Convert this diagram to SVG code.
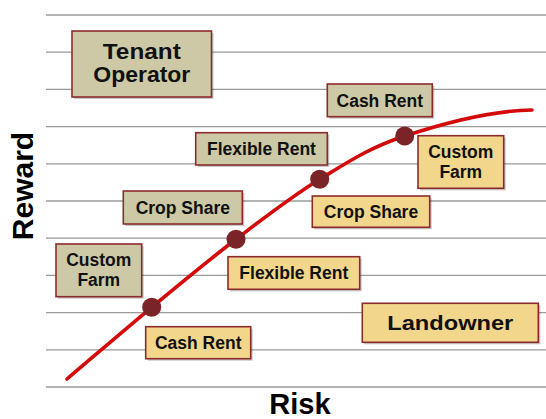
<svg xmlns="http://www.w3.org/2000/svg" width="546" height="419" viewBox="0 0 546 419">
<defs>
<style>
.grid line{stroke:#9a9a9a;stroke-width:1.3}
.box{stroke:#8c2b2e;stroke-width:1.6}
.gray{fill:#cdc9a6}
.yel{fill:#f1d68c}
.sh{fill:#000;opacity:0.22}
.t{font-family:"Liberation Sans",Arial,sans-serif;font-weight:bold;font-size:17.5px;fill:#111;text-anchor:middle}
.big{font-size:21.5px}
.axis{font-family:"Liberation Sans",Arial,sans-serif;font-weight:bold;font-size:30px;fill:#000;text-anchor:middle}
.dot{fill:#7b2428}
</style>
</defs>
<rect width="546" height="419" fill="#fff"/>
<g class="grid">
<line x1="46" y1="15" x2="546" y2="15"/>
<line x1="46" y1="52.2" x2="546" y2="52.2"/>
<line x1="46" y1="89.4" x2="546" y2="89.4"/>
<line x1="46" y1="126.6" x2="546" y2="126.6"/>
<line x1="46" y1="163.8" x2="546" y2="163.8"/>
<line x1="46" y1="201" x2="546" y2="201"/>
<line x1="46" y1="238.2" x2="546" y2="238.2"/>
<line x1="46" y1="275.4" x2="546" y2="275.4"/>
<line x1="46" y1="312.6" x2="546" y2="312.6"/>
<line x1="46" y1="349.8" x2="546" y2="349.8"/>
<line x1="46" y1="387" x2="546" y2="387"/>
</g>
<g id="connectors">
<path d="M67,379 C95.2,355.1 123.5,330.6 151.7,307.3 C179.9,284 208,260.6 236,239.3 C264,218 291.6,196.5 319.7,179.3 C347.8,162.1 369.3,147.6 404.7,136 C440.1,124.4 492,110.5 532,110" fill="none" stroke="#d40a0a" stroke-width="3.6" stroke-linecap="round"/>
<circle class="dot" cx="151.7" cy="307.3" r="9.5"/>
<circle class="dot" cx="236" cy="239.3" r="9.5"/>
<circle class="dot" cx="319.7" cy="179.3" r="9.5"/>
<circle class="dot" cx="404.7" cy="136" r="9.5"/>
</g>
<g id="tenant-operator">
<rect class="sh" x="74" y="33" width="139.5" height="66"/>
<rect class="box gray" x="72" y="31" width="139.5" height="66"/>
<text class="t big" x="141.8" y="58.5" textLength="78" lengthAdjust="spacingAndGlyphs">Tenant</text>
<text class="t big" x="141.8" y="81.5" textLength="97" lengthAdjust="spacingAndGlyphs">Operator</text>
</g>
<g id="cash-rent-tenant">
<rect class="sh" x="329.3" y="86" width="105" height="32.7"/>
<rect class="box gray" x="327.3" y="84" width="105" height="32.7"/>
<text class="t" x="379.8" y="106.6">Cash Rent</text>
</g>
<g id="flexible-rent-tenant">
<rect class="sh" x="197.7" y="134.7" width="131.6" height="32.3"/>
<rect class="box gray" x="195.7" y="132.7" width="131.6" height="32.3"/>
<text class="t" x="261.5" y="155">Flexible Rent</text>
</g>
<g id="crop-share-tenant">
<rect class="sh" x="125.3" y="193" width="119" height="33"/>
<rect class="box gray" x="123.3" y="191" width="119" height="33"/>
<text class="t" x="182.8" y="213.7">Crop Share</text>
</g>
<g id="custom-farm-tenant">
<rect class="sh" x="58" y="246" width="85.7" height="52.7"/>
<rect class="box gray" x="56" y="244" width="85.7" height="52.7"/>
<text class="t" x="98.8" y="266">Custom</text>
<text class="t" x="98.8" y="286">Farm</text>
</g>
<g id="custom-farm-landowner">
<rect class="sh" x="420" y="137.7" width="85.7" height="52.6"/>
<rect class="box yel" x="418" y="135.7" width="85.7" height="52.6"/>
<text class="t" x="460.8" y="157.5">Custom</text>
<text class="t" x="460.8" y="177.5">Farm</text>
</g>
<g id="crop-share-landowner">
<rect class="sh" x="314.3" y="198" width="117.4" height="31.3"/>
<rect class="box yel" x="312.3" y="196" width="117.4" height="31.3"/>
<text class="t" x="371" y="218">Crop Share</text>
</g>
<g id="flexible-rent-landowner">
<rect class="sh" x="230" y="258.7" width="131.7" height="32.6"/>
<rect class="box yel" x="228" y="256.7" width="131.7" height="32.6"/>
<text class="t" x="293.8" y="279.2">Flexible Rent</text>
</g>
<g id="cash-rent-landowner">
<rect class="sh" x="147.7" y="328.7" width="105" height="32"/>
<rect class="box yel" x="145.7" y="326.7" width="105" height="32"/>
<text class="t" x="198.2" y="349">Cash Rent</text>
</g>
<g id="landowner">
<rect class="sh" x="364.3" y="305.3" width="176" height="39"/>
<rect class="box yel" x="362.3" y="303.3" width="176" height="39"/>
<text class="t" x="450.3" y="330" style="font-size:21px" textLength="126" lengthAdjust="spacingAndGlyphs">Landowner</text>
</g>
<g id="axis-labels">
<text class="axis" transform="translate(33,186) rotate(-90)">Reward</text>
<text class="axis" x="300" y="414" style="font-size:29px">Risk</text>
</g>
</svg>
